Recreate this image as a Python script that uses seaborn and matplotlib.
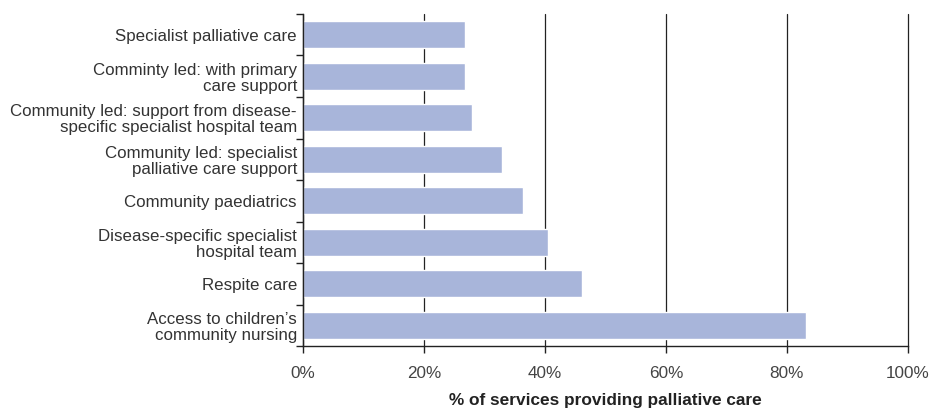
import matplotlib
matplotlib.use("Agg")
import matplotlib.pyplot as plt
import seaborn as sns
import pandas as pd
from matplotlib.ticker import FixedLocator, PercentFormatter

categories = [
    "Specialist palliative care",
    "Comminty led: with primary\ncare support",
    "Community led: support from disease-\nspecific specialist hospital team",
    "Community led: specialist\npalliative care support",
    "Community paediatrics",
    "Disease-specific specialist\nhospital team",
    "Respite care",
    "Access to children\u2019s\ncommunity nursing",
]
values = [26.8, 26.8, 27.9, 32.9, 36.4, 40.5, 46.1, 83.1]
x_ticks = [0, 20, 40, 60, 80, 100]
x_label = "% of services providing palliative care"

sns.set_theme(style="white")
plt.rcParams['font.family'] = ['Liberation Sans', 'DejaVu Sans']

df = pd.DataFrame({"cat": categories, "val": values})

fig = plt.figure(figsize=(9.3, 4.11), dpi=100)
ax = fig.add_axes([0.326, 0.158, 0.650, 0.808])

for t in x_ticks:
    ax.axvline(t, color="#222222", lw=0.9, zorder=0, clip_on=False)

sns.barplot(data=df, x="val", y="cat", orient="h", color="#A8B5DA",
            width=0.65, saturation=1, ax=ax, zorder=2)

ax.set_xlim(0, 100)
ax.set_ylim(len(categories) - 0.5, -0.5)
ax.xaxis.set_major_locator(FixedLocator(x_ticks))
ax.xaxis.set_major_formatter(PercentFormatter(decimals=0))

ax.yaxis.set_major_locator(FixedLocator(range(len(categories))))
ax.set_yticklabels(categories, fontsize=12.2, color="#333333", linespacing=1.08)
ax.yaxis.set_minor_locator(FixedLocator([i - 0.5 for i in range(len(categories) + 1)]))
ax.tick_params(axis="y", which="major", length=0, pad=4.5)
ax.tick_params(axis="y", which="minor", length=5, width=1, color="#222222", left=True)
ax.tick_params(axis="x", which="major", length=5, width=1, color="#222222", bottom=True,
               labelsize=12.3, labelcolor="#444444", pad=9)

for s in ["top", "right"]:
    ax.spines[s].set_visible(False)
for s in ["left", "bottom"]:
    ax.spines[s].set_color("#222222")
    ax.spines[s].set_linewidth(1)

ax.set_ylabel("")
ax.set_xlabel(x_label, fontsize=12.4, fontweight="bold", color="#222222", labelpad=9)

fig.savefig("out.png", dpi=100)
